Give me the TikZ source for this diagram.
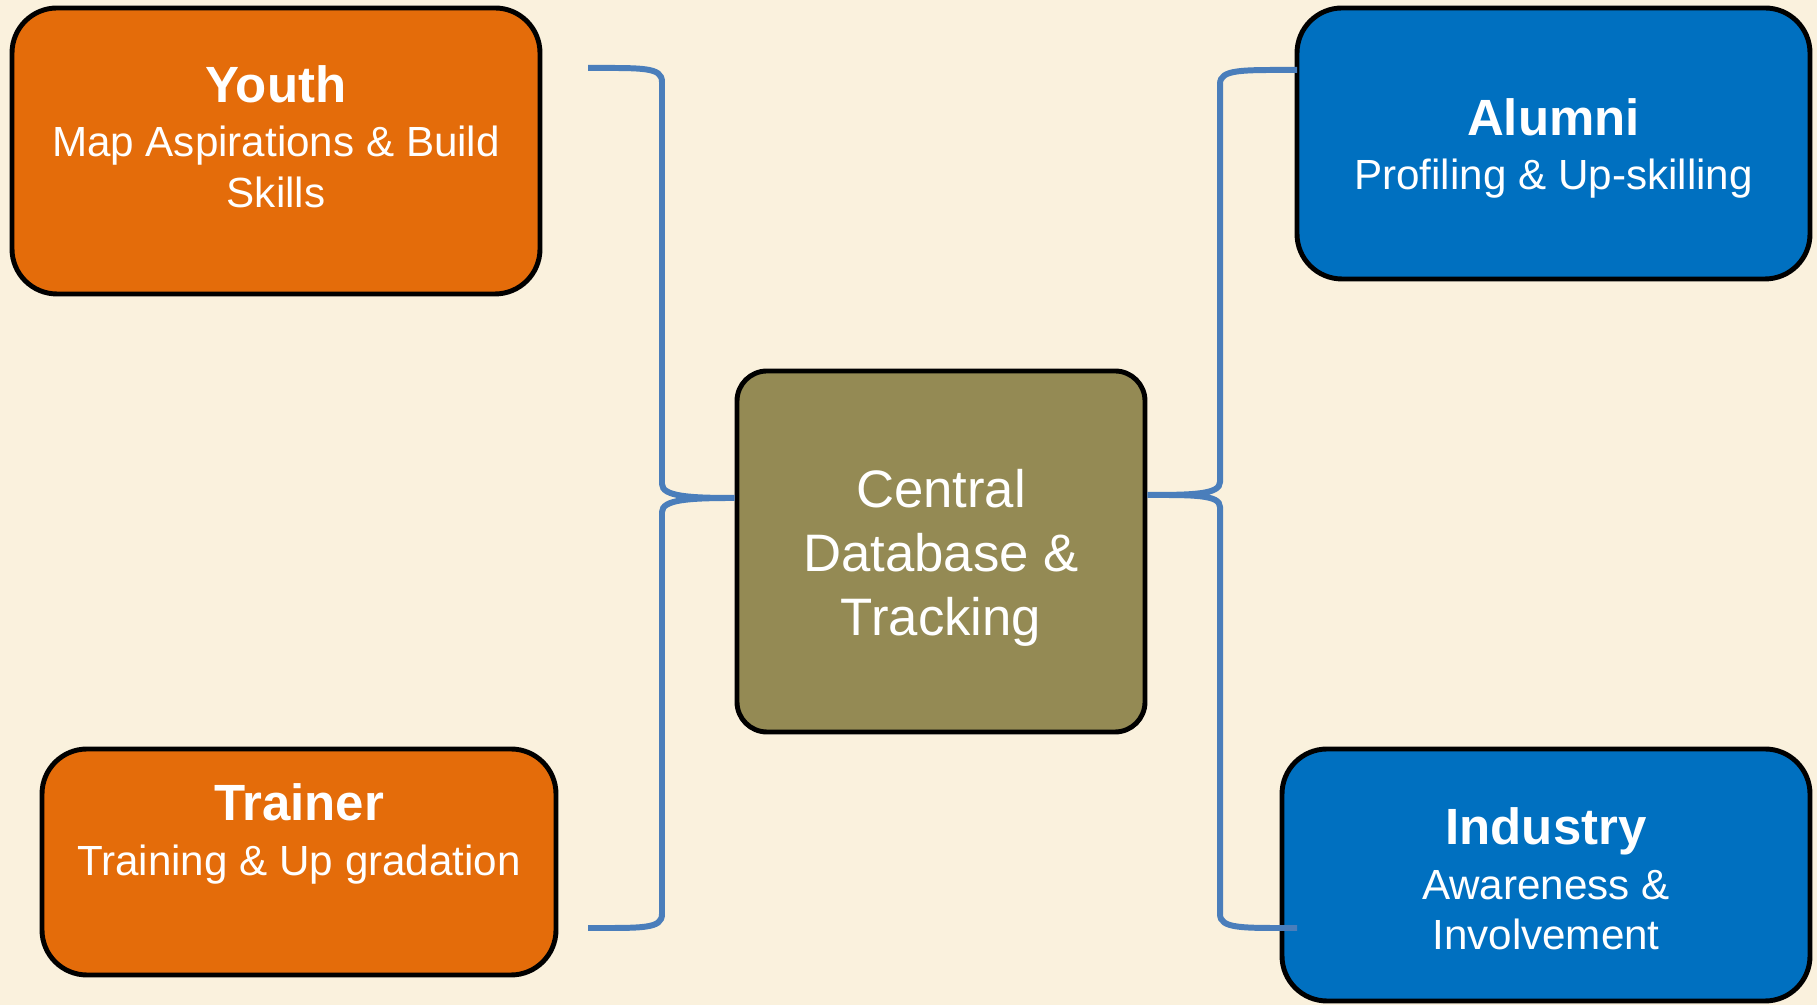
\documentclass[tikz,border=0pt]{standalone}
\usepackage{fontspec}
\setmainfont{Liberation Sans}
\usepackage{xcolor}
\usepackage{tikz}
\usetikzlibrary{positioning}
\usetikzlibrary{calc}
\definecolor{bgcream}{HTML}{FAF1DD}
\definecolor{youthorange}{HTML}{E46C0A}
\definecolor{alumniblue}{HTML}{0070C0}
\definecolor{centralolive}{HTML}{948A54}
\definecolor{bracecolor}{HTML}{4A7EBB}
\tikzstyle{box}=[rectangle,rounded corners=0.9cm,draw=black,line width=2.8pt]
\tikzstyle{boxtext}=[text=white,align=center,font=\fontsize{24}{29}\selectfont]
\tikzstyle{brace}=[draw=bracecolor,line width=3.4pt]
\newcommand{\titlefont}{\fontsize{29}{30}\selectfont\bfseries}

\begin{document}
\begin{tikzpicture}

 \fill[bgcream] (0,0) rectangle (36.34,20.1);
 \useasboundingbox (0,0) rectangle (36.34,20.1);

 %side boxes
   \foreach \x/\y/\w/\h/\col/\name/\dy/\title/\sub in {5.52/17.08/10.56/5.72/youthorange/youth/0.28/Youth/{Map Aspirations \& Build\\Skills}, 5.98/2.86/10.28/4.52/youthorange/trainer/0.56/Trainer/{Training \& Up gradation}, 31.07/17.23/10.26/5.42/alumniblue/alumni/-0.1/Alumni/{Profiling \& Up-skilling}, 30.92/2.6/10.56/5.04/alumniblue/industry/-0.08/Industry/{Awareness \&\\Involvement}}
   {
          \node[box,fill=\col,minimum width=\w cm,minimum height=\h cm] (\name) at (\x,\y) {};
          \node[boxtext] (\name text) at ([yshift=\dy cm]\name.center) {{\titlefont \title}\\[2pt]\sub};
   }

 %central
 \node[box,boxtext,rounded corners=0.6cm,fill=centralolive,minimum width=8.16cm,minimum height=7.22cm,font=\fontsize{30}{36.4}\selectfont] (central) at (18.82,9.07) {};
 \node[boxtext,font=\fontsize{30}{36.4}\selectfont] (central text) at ([yshift=-0.12cm]central.center) {Central\\Database \&\\Tracking};

 %braces
 \coordinate (ltop) at (11.76,18.74);
 \coordinate (lbot) at (11.76,1.54);
 \coordinate (lcusp) at ($(central.west)+(0,1.07)$);
 \coordinate (rtop) at (25.94,18.7);
 \coordinate (rbot) at (25.94,1.54);
 \coordinate (rcusp) at ($(central.east)+(0,1.13)$);

 \draw[brace] (ltop) .. controls +(1.1,0) and +(0,0.3) .. (13.24,18.46) -- (13.24,10.42) .. controls +(0,-0.25) and +(-0.9,0) .. (lcusp) .. controls +(-0.9,0) and +(0,0.25) .. (13.24,9.86) -- (13.24,1.82) .. controls +(0,-0.3) and +(1.1,0) .. (lbot);

 \draw[brace] (rtop) .. controls +(-1.1,0) and +(0,0.3) .. (24.4,18.42) -- (24.4,10.46) .. controls +(0,-0.25) and +(0.9,0) .. (rcusp) .. controls +(0.9,0) and +(0,0.25) .. (24.4,9.96) -- (24.4,1.82) .. controls +(0,-0.3) and +(-1.1,0) .. (rbot);

\end{tikzpicture}
\end{document}
